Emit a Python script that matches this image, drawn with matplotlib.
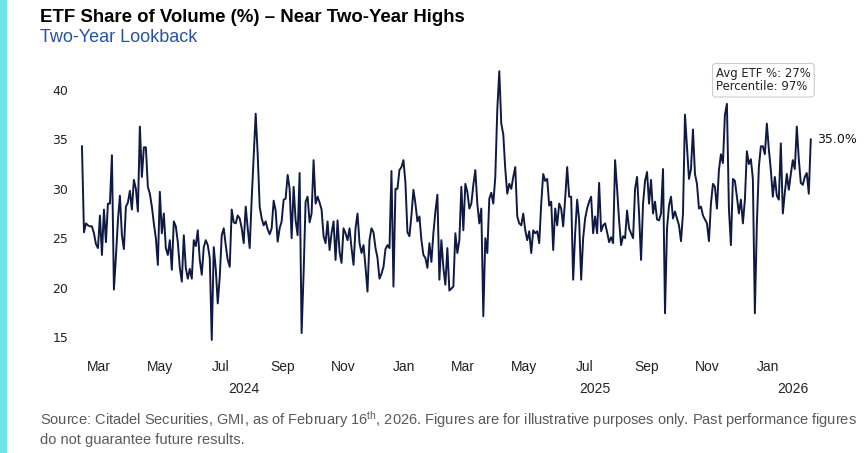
import numpy as np
import pandas as pd
import matplotlib
matplotlib.use("Agg")
import matplotlib.pyplot as plt
from matplotlib import font_manager
from matplotlib.patches import Rectangle

# ---------------- data ----------------
seg1 = [34.3, 25.6, 26.5, 26.3, 26.2, 26.2, 25.5, 24.4, 24.0, 27.3,
        23.3, 27.9, 24.6, 28.5, 28.5, 33.4, 19.8, 23.1, 26.8, 29.3,
        25.3, 23.9, 28.2, 28.6, 29.8, 27.9, 30.9, 30.0, 27.7, 36.3,
        31.2, 34.2, 34.2, 30.2, 29.5, 28.2, 26.5, 25.0, 22.3, 29.7,
        25.5, 27.5, 24.0, 23.3, 24.8, 21.8, 26.7, 26.2, 24.6, 22.0,
        20.6, 25.3, 22.0, 20.9, 21.9, 20.9, 24.8, 24.2, 25.8, 22.8,
        21.3]
seg2 = [24.1, 24.8, 24.3, 23.0, 14.7, 24.1, 21.9, 18.4, 21.1, 25.3,
        26.0, 24.3, 22.8, 22.1, 27.9, 26.6, 26.5, 27.3, 27.0, 26.0,
        24.5, 28.2, 26.0, 24.0, 29.0, 33.2, 37.6, 33.5, 28.2, 27.0,
        26.3, 26.7, 25.9, 25.4, 26.0, 28.8, 27.8, 24.65, 26.0, 26.7,
        28.9, 29.0, 31.4, 30.0, 25.0, 30.2, 26.8, 25.3, 31.6, 15.4,
        21.45, 28.7, 29.2, 26.6, 27.5, 32.9, 28.5, 29.2, 28.6, 27.9,
        25.2]
seg3 = [24.5, 26.7, 23.8, 25.5, 26.7, 22.8, 26.8, 23.6, 22.5, 26.0,
        25.5, 24.8, 26.0, 24.0, 22.3, 26.0, 27.5, 24.5, 23.5, 24.3,
        22.1, 19.6, 24.8, 26.0, 25.6, 24.0, 23.0, 20.9, 21.4, 22.1,
        23.9, 24.3, 24.0, 31.8, 20.1, 30.0, 30.0, 31.9, 32.2, 32.9,
        30.6, 25.6, 25.2, 27.3, 29.9, 28.5, 26.7, 27.2, 24.8, 23.3,
        23.0, 22.0, 24.5, 22.6, 25.5, 27.7, 29.4, 20.8, 24.8, 22.0,
        20.3]
seg4 = [24.0, 19.7, 19.9, 20.1, 25.5, 23.5, 24.8, 30.2, 25.8, 30.5,
        29.7, 28.0, 28.5, 30.4, 31.9, 28.5, 26.5, 28.0, 17.1, 25.0,
        23.5, 29.0, 29.6, 28.5, 31.2, 38.0, 41.9, 36.6, 35.5, 32.0,
        29.5, 30.5, 30.0, 31.2, 32.2, 27.2, 26.5, 26.3, 27.5, 25.8,
        24.8, 25.7, 23.5, 25.8, 25.5, 25.7, 24.5, 28.5, 31.5, 30.8,
        31.0, 28.3, 28.7, 23.8, 28.0, 26.3, 28.5, 28.0, 26.2, 29.0,
        32.2]
seg5 = [29.2, 29.2, 20.8, 25.5, 28.9, 26.8, 20.8, 25.0, 27.0, 28.0,
        28.7, 29.2, 25.5, 27.2, 25.5, 30.6, 25.7, 26.3, 26.5, 25.6,
        24.6, 25.1, 24.5, 32.9, 30.0, 26.8, 24.3, 25.2, 25.0, 27.8,
        26.0, 25.5, 25.0, 30.0, 31.2, 27.5, 22.8, 28.5, 30.8, 31.7,
        28.5, 30.9, 27.5, 28.7, 26.9, 26.8, 27.5, 32.0, 17.4, 26.0,
        28.3, 29.2, 27.0, 27.7, 27.0, 26.3, 24.7, 27.5, 37.5, 34.3,
        31.0]
seg6 = [32.0, 36.0, 31.5, 30.5, 28.0, 28.2, 27.3, 26.9, 26.5, 24.7,
        28.5, 30.5, 30.2, 28.0, 31.9, 33.5, 32.6, 37.5, 38.6, 28.0,
        24.3, 31.0, 30.8, 29.2, 27.5, 28.9, 26.5, 28.9, 33.8, 32.5,
        33.0, 31.0, 17.4, 26.5, 32.2, 34.3, 34.3, 33.5, 36.6, 34.0,
        31.9, 29.2, 31.2, 29.3, 28.9, 34.6, 27.5, 29.6, 31.5, 29.9,
        31.5, 32.9, 32.0, 36.3, 33.0, 30.6, 30.4, 31.2, 31.6, 29.5,
        35.0]
etf_share = seg1 + seg2 + seg3 + seg4 + seg5 + seg6
start_date, end_date = "2024-02-13", "2026-02-13"

y_ticks = [15, 20, 25, 30, 35, 40]
month_ticks = ["2024-03-01", "2024-05-01", "2024-07-01", "2024-09-01", "2024-11-01",
               "2025-01-01", "2025-03-01", "2025-05-01", "2025-07-01", "2025-09-01",
               "2025-11-01", "2026-01-01"]
month_labels = ["Mar", "May", "Jul", "Sep", "Nov", "Jan",
                "Mar", "May", "Jul", "Sep", "Nov", "Jan"]
year_labels = ["2024", "2025", "2026"]
year_label_dates = ["2024-07-24", "2025-07-11", "2026-01-26"]

avg_text = "Avg ETF %: 27%\nPercentile: 97%"
TITLE = "ETF Share of Volume (%) \u2013 Near Two-Year Highs"
SUBTITLE = "Two-Year Lookback"
FOOT1 = ("Source: Citadel Securities, GMI, as of February 16$^{\\mathrm{th}}$, 2026. "
         "Figures are for illustrative purposes only. Past performance figures")
FOOT2 = "do not guarantee future results."

# ---------------- style ----------------
LINE = "#0f1a44"
CYAN = "#6fe4e6"
BLUE = "#2452b0"
GREY = "#595959"

names = {f.name for f in font_manager.fontManager.ttflist}
NARROW = "Liberation Sans Narrow" if "Liberation Sans Narrow" in names else "Liberation Sans"
plt.rcParams["font.family"] = ["DejaVu Sans"]
plt.rcParams["mathtext.fontset"] = "custom"
plt.rcParams["mathtext.rm"] = NARROW
plt.rcParams["mathtext.it"] = NARROW
plt.rcParams["mathtext.bf"] = NARROW

W, H = 868, 453
fig = plt.figure(figsize=(W / 100, H / 100), dpi=100)
fig.patches.append(Rectangle((0, 0), 6 / W, 1, transform=fig.transFigure,
                             color=CYAN, zorder=0))

ax = fig.add_axes([75 / W, 1 - 350 / H, (818 - 75) / W, 285 / H])
dates = pd.date_range(start_date, end_date, periods=len(etf_share))
ax.plot(dates, etf_share, color=LINE, lw=1.4, solid_joinstyle="round")

ref = pd.Timestamp("2025-01-01")
px_per_day = 0.997
ax.set_xlim(ref - pd.Timedelta(days=(404 - 75) / px_per_day),
            ref + pd.Timedelta(days=(818 - 404) / px_per_day))
ppu = 9.88
ax.set_ylim(40 - (350 - 90) / ppu, 40 + (90 - 65) / ppu)

for s in ax.spines.values():
    s.set_visible(False)
ax.set_yticks(y_ticks)
ax.set_yticklabels([str(v) for v in y_ticks])
ax.tick_params(axis="y", length=0, pad=5, labelsize=9, labelcolor="#222222")
ax.set_xticks(pd.to_datetime(month_ticks))
ax.set_xticklabels(month_labels, fontfamily=NARROW, fontsize=10, color="#222222")
ax.tick_params(axis="x", length=0, pad=7)

xt = ax.get_xaxis_transform()
for lab, d in zip(year_labels, year_label_dates):
    ax.text(pd.Timestamp(d), (350 - 389) / 285, lab, transform=xt, ha="center",
            va="center", fontfamily=NARROW, fontsize=10, color="#222222")

ax.annotate(f"{etf_share[-1]:.1f}%", xy=(dates[-1], etf_share[-1]),
            xytext=(4.5, 0), textcoords="offset points", va="center",
            fontsize=9, color="#111111", annotation_clip=False)

fig.text(716 / W, 1 - 67 / H, avg_text, ha="left", va="top", fontsize=8.4,
         color="#222222", linespacing=1.05,
         bbox=dict(boxstyle="round,pad=0.3,rounding_size=0.25", fc="white",
                   ec="#cccccc", lw=0.8))

# ---------------- titles and footer, sized to the reference widths ----------------
renderer = fig.canvas.get_renderer()


def fitted(x, y, s, target_w, size, **kw):
    t = fig.text(x / W, 1 - y / H, s, va="center", ha="left", fontsize=size, **kw)
    w = t.get_window_extent(renderer).width
    new = size * target_w / w
    t.set_fontsize(new)
    return new


fitted(40, 17, TITLE, 429, 15, fontweight="bold", fontfamily=NARROW, color="black")
fitted(40, 38, SUBTITLE, 158, 12, fontfamily=NARROW, color=BLUE)
fs = fitted(40, 420, FOOT1, 818, 11, fontfamily=NARROW, color=GREY)
fig.text(40 / W, 1 - 440 / H, FOOT2, va="center", ha="left", fontsize=fs,
         fontfamily=NARROW, color=GREY)

fig.savefig("out.png", dpi=100)
